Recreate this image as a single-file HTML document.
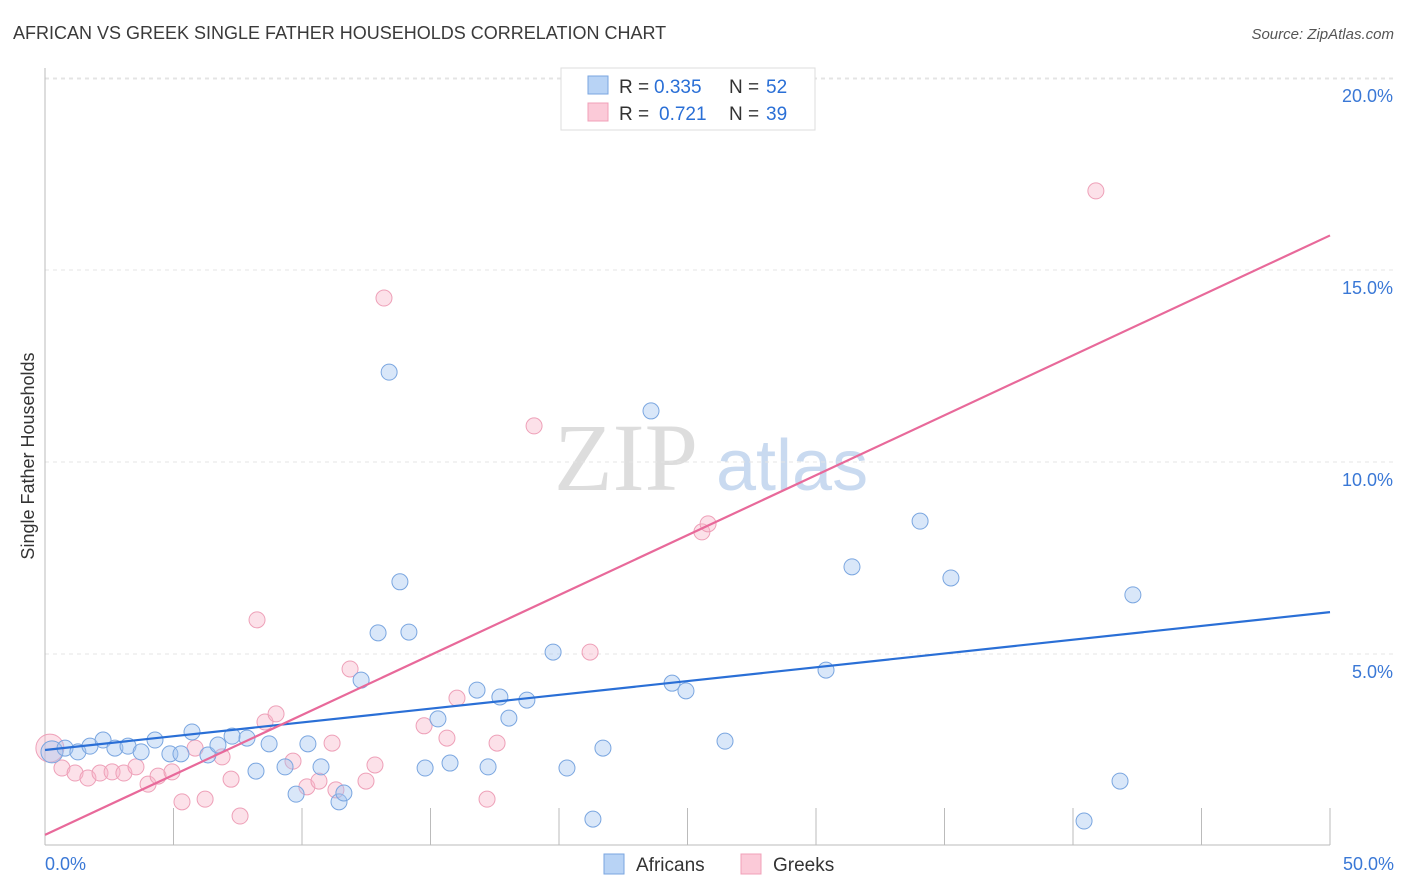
<!DOCTYPE html>
<html><head><meta charset="utf-8"><style>
body{margin:0;background:#fff;font-family:"Liberation Sans",sans-serif;}
svg{display:block}
</style></head><body>
<svg width="1406" height="892" id="c">
<text x="13" y="39" font-size="18" fill="#3a3a3a">AFRICAN VS GREEK SINGLE FATHER HOUSEHOLDS CORRELATION CHART</text>
<text x="1394" y="39" font-size="15" fill="#555" font-style="italic" text-anchor="end">Source: ZipAtlas.com</text>
<text x="0" y="0" font-size="18" fill="#333" text-anchor="middle" transform="translate(34,456) rotate(-90)">Single Father Households</text>
<text x="554" y="490" font-size="96" fill="#ddd" font-family="Liberation Serif">ZIP</text>
<text x="716" y="490" font-size="72" fill="#c9daf0">atlas</text>
<g id="grid"></g><g id="marks"></g>
<g font-size="19">
<rect x="561" y="68" width="254" height="62" fill="#fff" stroke="#ddd"/>
<rect x="588" y="76" width="20" height="18" fill="#b8d3f5" stroke="#7aa6e0"/>
<text x="619" y="93" fill="#333">R =</text>
<text x="654" y="93" fill="#2a6fd6">0.335</text>
<text x="729" y="93" fill="#333">N =</text>
<text x="766" y="93" fill="#2a6fd6">52</text>
<rect x="588" y="103" width="20" height="18" fill="#fbcad8" stroke="#f0a0b8"/>
<text x="619" y="120" fill="#333">R =</text>
<text x="659" y="120" fill="#2a6fd6">0.721</text>
<text x="729" y="120" fill="#333">N =</text>
<text x="766" y="120" fill="#2a6fd6">39</text>
</g>
<g>
<rect x="604" y="854" width="20" height="20" fill="#b8d3f5" stroke="#7aa6e0"/>
<text x="636" y="871" font-size="19" fill="#333">Africans</text>
<rect x="741" y="854" width="20" height="20" fill="#fbcad8" stroke="#f0a0b8"/>
<text x="773" y="871" font-size="19" fill="#333">Greeks</text>
</g>
</svg>
<script>
const blueX=[0.27,0.78,1.28,1.75,2.26,2.72,3.23,3.74,4.28,4.86,5.29,5.72,6.34,6.73,7.28,7.86,8.21,8.72,9.34,9.77,10.23,10.74,11.44,11.63,12.30,12.96,13.39,13.81,14.16,14.79,15.29,15.76,16.81,17.24,17.70,18.05,18.75,19.77,20.31,21.32,21.71,23.58,24.40,24.94,26.46,30.39,31.40,34.05,35.25,40.43,41.83,42.33];
const blueY=[2.45,2.55,2.45,2.60,2.76,2.55,2.60,2.45,2.76,2.40,2.40,2.97,2.37,2.63,2.86,2.81,1.95,2.66,2.06,1.35,2.66,2.06,1.15,1.38,4.32,5.55,12.34,6.88,5.57,2.03,3.31,2.16,4.06,2.06,3.88,3.33,3.80,5.05,2.03,0.70,2.55,11.33,4.24,4.04,2.73,4.58,7.27,8.46,6.98,0.65,1.69,6.54];
const pinkX=[0.19,0.66,1.17,1.67,2.14,2.61,3.07,3.54,4.01,4.40,4.94,5.33,5.84,6.23,6.89,7.24,7.59,8.25,8.56,8.99,9.65,10.19,10.66,11.17,11.32,11.87,12.49,12.84,13.19,14.75,15.64,16.03,17.20,17.59,19.03,21.21,25.56,25.80,40.89];
const pinkY=[2.55,2.03,1.90,1.77,1.90,1.93,1.90,2.06,1.61,1.82,1.93,1.15,2.55,1.22,2.32,1.74,0.78,5.89,3.23,3.44,2.21,1.54,1.69,2.68,1.46,4.61,1.69,2.11,14.27,3.13,2.81,3.85,1.22,2.68,10.94,5.05,8.18,8.39,17.06];
const blueTrend=[2.5,6.09];
const pinkTrend=[0.29,15.9];
const yTicks=[5,10,15,20];
const yTickLabels=["5.0%","10.0%","15.0%","20.0%"];
const xTicks=[5,10,15,20,25,30,35,40,45,50];
const NS='http://www.w3.org/2000/svg';
const sx=v=>45+v*25.7, sy=v=>846-v*38.4;
function mk(tag,at,parent){const e=document.createElementNS(NS,tag);for(const k in at)e.setAttribute(k,at[k]);parent.appendChild(e);return e;}
const g=document.getElementById('grid'),m=document.getElementById('marks');
yTicks.forEach((t,i)=>{
 const l=mk('line',{x1:45,x2:1394,y1:sy(t),y2:sy(t),stroke:'#e4e4e4','stroke-dasharray':'4,4'},g);
 
 
 const tx=mk('text',{x:1393,y:sy(t)+24,'font-size':18,fill:'#3a78d6','text-anchor':'end'},g);
 tx.textContent=yTickLabels[i];
 
 
});
const tl=mk('line',{x1:45,x2:1394,y1:79,y2:79,stroke:'#e4e4e4','stroke-dasharray':'4,4'},g);


const ya=mk('line',{x1:45,x2:45,y1:68,y2:845,stroke:'#bbb'},g);


const xa=mk('line',{x1:45,x2:1330,y1:845,y2:845,stroke:'#bbb'},g);


xTicks.forEach(t=>{
 const l=mk('line',{x1:sx(t),x2:sx(t),y1:808,y2:845,stroke:'#bbb'},g);
 
 
});
const x0=mk('text',{x:45,y:870,'font-size':18,fill:'#3a78d6'},g);x0.textContent='0.0%';


const x1=mk('text',{x:1394,y:870,'font-size':18,fill:'#3a78d6','text-anchor':'end'},g);x1.textContent='50.0%';


function pts(X,Y,fill,stroke,name){X.forEach((x,i)=>{
 const c=mk('circle',{cx:sx(x),cy:sy(Y[i]),r:i===0?(name==='greek-point'?14:11):8,fill:fill,stroke:stroke,'stroke-width':1},m);
 
 
});}
pts(pinkX,pinkY,'rgba(248,180,200,0.4)','#eea0b8','greek-point');
pts(blueX,blueY,'rgba(160,196,240,0.4)','#7aa6e0','african-point');
const bl=mk('line',{x1:sx(0),y1:sy(blueTrend[0]),x2:sx(50),y2:sy(blueTrend[1]),stroke:'#2a6fd6','stroke-width':2.2},m);


const pl=mk('line',{x1:sx(0),y1:sy(pinkTrend[0]),x2:sx(50),y2:sy(pinkTrend[1]),stroke:'#e8699a','stroke-width':2.2},m);


</script>
</body></html>
